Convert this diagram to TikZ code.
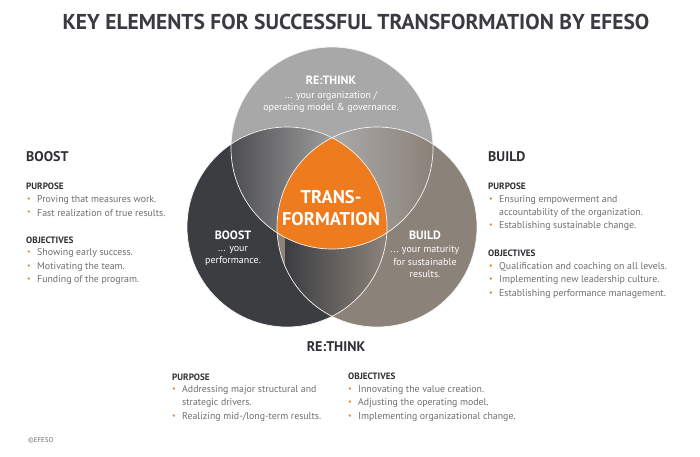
\documentclass[tikz,border=0pt]{standalone}
\usepackage{fontspec}
\setmainfont{PT Sans}
\definecolor{orng}{HTML}{EE7B1D}
\definecolor{topc}{HTML}{A8A8A8}
\definecolor{leftc}{HTML}{3C3D41}
\definecolor{rightc}{HTML}{8B8279}
\definecolor{headc}{HTML}{2E2E33}
\definecolor{bodyc}{HTML}{6E6E6E}
\definecolor{titlec}{HTML}{3A3B40}
\tikzset{
  head/.style={anchor=west, inner sep=0pt, text=headc, font=\bfseries\fontsize{14}{14}\selectfont},
  sub/.style={anchor=west, inner sep=0pt, text=headc, font=\bfseries\fontsize{9.2}{9}\selectfont},
  body/.style={anchor=west, inner sep=0pt, text=bodyc, font=\fontsize{9.85}{10}\selectfont},
  dot/.style={anchor=center, inner sep=0pt, text=orng, font=\fontsize{8}{8}\selectfont},
  inhead/.style={inner sep=0pt, text=white, font=\bfseries\fontsize{12}{12}\selectfont},
  inbody/.style={inner sep=0pt, text=white, font=\fontsize{10}{12.5}\selectfont, align=center},
  outline/.style={draw=white!92!gray, line width=0.7pt}
}
\newcommand{\blt}[4]{\node[dot] (#1d) at (#2,#3) {•};\node[body] (#1) at ([xshift=8pt]#2,#3) {#4};}
\begin{document}
\begin{tikzpicture}[x=1pt,y=-1pt]
\useasboundingbox (0,0) rectangle (700,456);
% circles
\coordinate (ct) at (332,148);
\coordinate (cl) at (287,227);
\coordinate (cr) at (377,227);
\fill[topc] (ct) circle[radius=101];
\fill[leftc] (cl) circle[radius=100];
\fill[rightc] (cr) circle[radius=100];
% overlaps
\begin{scope}
  \clip (ct) circle[radius=101];
  \clip (cl) circle[radius=100];
  \shade[left color=leftc!85!topc, right color=topc!95!black] (230,110) rectangle (336,260);
\end{scope}
\begin{scope}
  \clip (ct) circle[radius=101];
  \clip (cr) circle[radius=100];
  \shade[left color=topc!97!white, right color=rightc] (328,110) rectangle (434,260);
\end{scope}
\begin{scope}
  \clip (cl) circle[radius=100];
  \clip (cr) circle[radius=100];
  \shade[left color=leftc, right color=rightc!95!leftc] (285,140) rectangle (380,320);
\end{scope}
\begin{scope}
  \clip (ct) circle[radius=101];
  \clip (cl) circle[radius=100];
  \clip (cr) circle[radius=100];
  \fill[orng] (220,100) rectangle (440,330);
\end{scope}
\draw[outline] (ct) circle[radius=101];
\draw[outline] (cl) circle[radius=100];
\draw[outline] (cr) circle[radius=100];
% title
\node[inner sep=0pt, text=titlec, font=\bfseries\fontsize{21.5}{22}\selectfont] (title) at (356,22) {KEY ELEMENTS FOR SUCCESSFUL TRANSFORMATION BY EFESO};
% inner texts
\node[inhead] (irt) at (331,80) {RE:THINK};
\node[inbody] (irtb) at (331,102) {... your organization /\\operating model \& governance.};
\node[inner sep=0pt, text=white, font=\bfseries\fontsize{18.5}{22}\selectfont, align=center] (tr) at (331,208) {TRANS-\\FORMATION};
\node[inhead] (ibo) at (233,235) {BOOST};
\node[inbody] (ibob) at (233,256) {... your\\performance.};
\node[inhead] (ibu) at (425,235) {BUILD};
\node[inbody] (ibub) at (425,262) {... your maturity\\for sustainable\\results.};
% left block
\node[head] (boost) at (26,157) {BOOST};
\node[sub] (bp) at (26,186) {PURPOSE};
\blt{bp1}{29}{200}{Proving that measures work.}
\blt{bp2}{29}{213}{Fast realization of true results.}
\node[sub] (bo) at (26,240) {OBJECTIVES};
\blt{bo1}{29}{253}{Showing early success.}
\blt{bo2}{29}{267}{Motivating the team.}
\blt{bo3}{29}{280}{Funding of the program.}
% right block
\node[head] (build) at (488,157) {BUILD};
\node[sub] (up) at (488,186) {PURPOSE};
\blt{up1}{491}{200}{Ensuring empowerment and}
\node[body] (up1b) at (499,213) {accountability of the organization.};
\blt{up2}{491}{226}{Establishing sustainable change.}
\node[sub] (uo) at (488,253) {OBJECTIVES};
\blt{uo1}{491}{267}{Qualification and coaching on all levels.}
\blt{uo2}{491}{280}{Implementing new leadership culture.}
\blt{uo3}{491}{294}{Establishing performance management.}
% bottom block
\node[inner sep=0pt, text=headc, font=\bfseries\fontsize{14}{14}\selectfont] (rethink) at (336,347) {RE:THINK};
\node[sub] (rp) at (172,377) {PURPOSE};
\blt{rp1}{174}{390}{Addressing major structural and}
\node[body] (rp1b) at (182,403) {strategic drivers.};
\blt{rp2}{174}{417}{Realizing mid-/long-term results.}
\node[sub] (ro) at (348,376) {OBJECTIVES};
\blt{ro1}{350}{390}{Innovating the value creation.}
\blt{ro2}{350}{403}{Adjusting the operating model.}
\blt{ro3}{350}{417}{Implementing organizational change.}
% copyright
\node[anchor=west, inner sep=0pt, text=bodyc, font=\fontsize{7}{7}\selectfont] (copy) at (28,440) {©EFESO};
\end{tikzpicture}
\end{document}
